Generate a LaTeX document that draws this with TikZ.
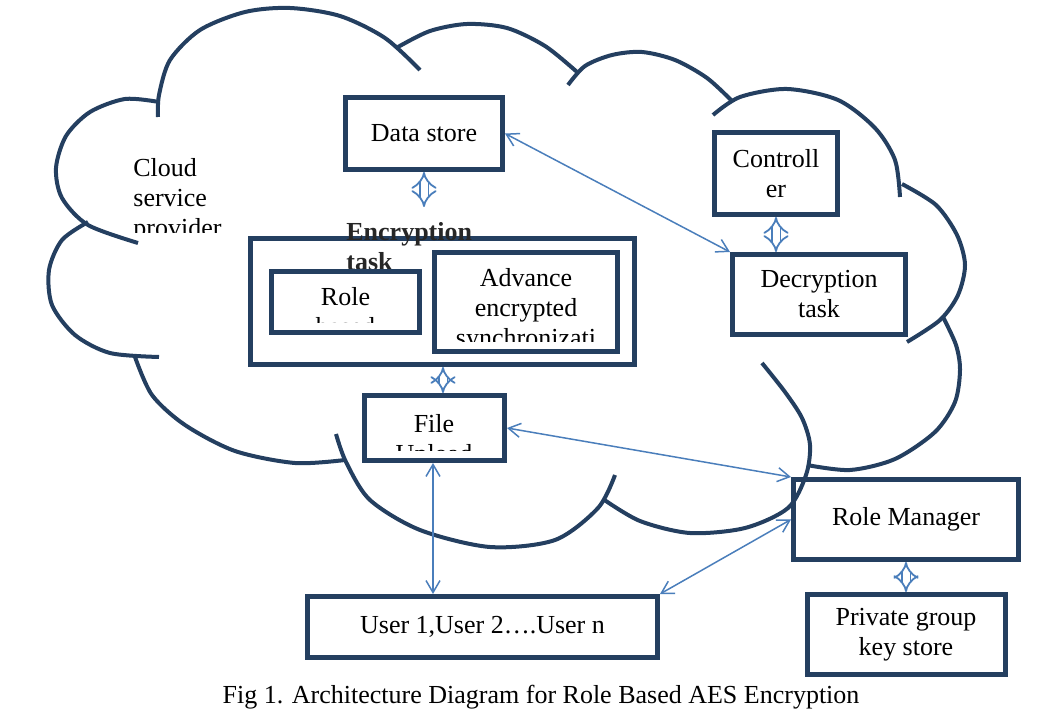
\documentclass[tikz,border=0pt]{standalone}
\usepackage{fontspec}
\setmainfont{Liberation Serif}
\usetikzlibrary{arrows.meta,positioning}
\definecolor{cloudNavy}{RGB}{36,63,96}
\definecolor{linkBlue}{RGB}{74,126,187}

\begin{document}
\begin{tikzpicture}[
  x=0.5pt, y=-0.5pt,
  cloudline/.style={draw=cloudNavy, line width=2pt},
  box/.style={
    draw=cloudNavy,
    line width=2.5pt,
    align=center,
    inner sep=0pt,
    font=\fontsize{13}{15}\selectfont
  },
  txt/.style={inner sep=0pt, font=\fontsize{13}{15}\selectfont},
  arrow/.style={{Straight Barb[length=6pt,width=7pt]}-{Straight Barb[length=6pt,width=7pt]},linkBlue,line width=0.75pt},
  dblarrow/.style={{Implies}-{Implies},draw=linkBlue,double=white,double distance=3.5pt,line width=0.9pt}
]
  \useasboundingbox (0,0) rectangle (1054,716);

  \draw[cloudline] plot[smooth] coordinates {(158,117) (159,95) (170,60) (200,30) (245,12) (290,8) (340,16) (385,38) (420,70)};
  \draw[cloudline] plot[smooth] coordinates {(398,47) (430,31) (467,24) (507,28) (545,46) (577,72)};
  \draw[cloudline] plot[smooth] coordinates {(568,85) (585,66) (612,55) (642,52) (675,60) (707,78) (733,102)};
  \draw[cloudline] plot[smooth] coordinates {(713,115) (740,97) (787,89) (838,100) (875,128) (895,160) (900,197)};
  \draw[cloudline] plot[smooth] coordinates {(902,184) (936,205) (957,235) (965,265) (958,295) (940,320) (907,342)};
  \draw[cloudline] plot[smooth] coordinates {(943,317) (956,345) (960,370) (955,402) (935,432) (895,459) (850,470) (807,465)};
  \draw[cloudline] plot[smooth] coordinates {(603,499) (640,521) (690,533) (745,528) (788,508) (806,475) (810,445) (802,418) (785,392) (762,363)};
  \draw[cloudline] plot[smooth] coordinates {(336,434) (346,462) (370,500) (420,530) (490,547) (555,540) (598,508) (615,475)};
  \draw[cloudline] plot[smooth] coordinates {(135,357) (152,395) (185,425) (235,451) (295,463) (345,460)};
  \draw[cloudline] plot[smooth] coordinates {(88,222) (62,240) (49,270) (52,305) (75,335) (110,353) (159,357)};
  \draw[cloudline] plot[smooth] coordinates {(159,102) (125,99) (90,112) (66,136) (56,168) (62,198) (88,225) (138,243)};

  \begin{scope}
    \clip (120,150) rectangle (260,233);
    \node[txt,align=left,anchor=north west] (provider) at (133,158) {Cloud\\service\\provider};
  \end{scope}

  \node[box,minimum width=78.5pt,minimum height=36pt] (store) at (424,133.5) {Data store};
  \node[box,minimum width=61.5pt,minimum height=41pt] (controller) at (776,173.5) {Controll\\er};
  \node[box,minimum width=86.5pt,minimum height=40pt] (decrypt) at (819,294.5) {Decryption\\task};

  \node[box,minimum width=192pt,minimum height=63pt] (enc) at (442.5,301.5) {};
  \node[txt,align=left,anchor=north west,font=\fontsize{13}{15}\selectfont\bfseries,text=black!85] (enclabel) at (346,222) {Encryption\\task};
  \coordinate (encin) at (424,207);

  \node[box,minimum width=74pt,minimum height=30.5pt] (role) at (345.5,302) {};
  \begin{scope}
    \clip (274,274) rectangle (417,323);
    \node[txt,align=center,anchor=north] (roletext) at (345.5,287) {Role\\based};
  \end{scope}

  \node[box,minimum width=91.5pt,minimum height=49.5pt] (aes) at (526,302) {};
  \begin{scope}
    \clip (437,255) rectangle (615,342);
    \node[txt,align=center,anchor=north] (aestext) at (526,268) {Advance\\encrypted\\synchronizati\\on};
  \end{scope}

  \node[box,minimum width=70pt,minimum height=32.5pt] (upload) at (434.5,428) {};
  \begin{scope}
    \clip (367,398) rectangle (502,450);
    \node[txt,align=center,anchor=north] (uploadtext) at (434,414) {File\\Upload};
  \end{scope}

  \node[box,minimum width=112.5pt,minimum height=40pt] (manager) at (906,519.5) {Role Manager};
  \node[box,minimum width=99pt,minimum height=40pt,below=15pt of manager] (keystore) {Private group\\key store};
  \node[box,minimum width=175pt,minimum height=30.5pt] (users) at (482.5,627) {User 1,User 2….User n};

  \node[txt] (caption) at (541,697) {Fig 1. Architecture Diagram for Role Based AES Encryption};

  \draw[dblarrow] (store) -- (encin);
  \draw[dblarrow] (controller.south) -- (controller.south |- decrypt.north);
  \draw[dblarrow] (enc.south -| 443,0) -- (upload.north -| 443,0);
  \draw[dblarrow] (manager) -- (keystore);
  \draw[arrow] (store.east) -- (decrypt.north west);
  \draw[arrow] (upload.east) -- (manager.north west);
  \draw[arrow] (upload.south -| 433,0) -- (users.north -| 433,0);
  \draw[arrow] (users.north east) -- (manager.west);
\end{tikzpicture}
\end{document}
